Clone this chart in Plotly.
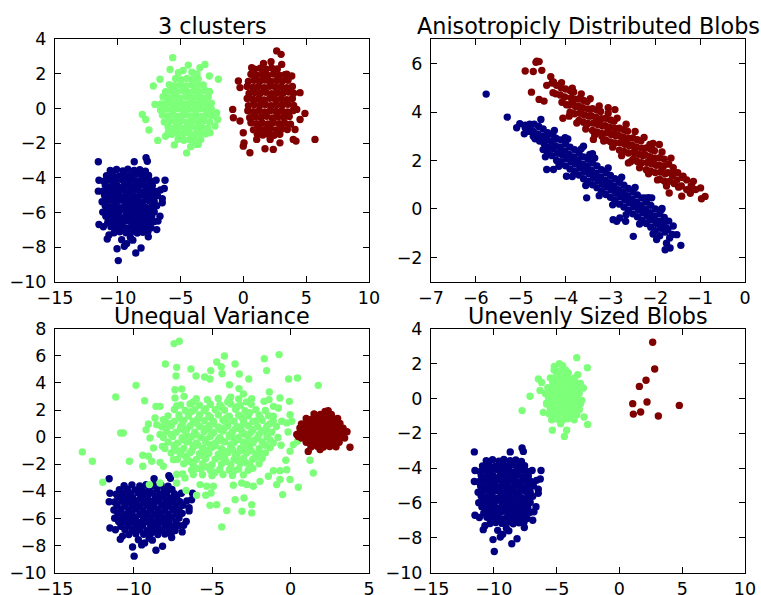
import plotly.graph_objects as go

NAVY = "#000080"
GREEN = "#7dff7a"
MAROON = "#800000"

TITLES = ["3 clusters", "Anisotropicly Distributed Blobs", "Unequal Variance", "Unevenly Sized Blobs"]

# ---- blob with std 1 at about (-9, -5.5); identical in panels 1, 3, 4 ----
blue_blob = [
    (-10.6,-3.58),(-10.1,-3.52),(-9.6,-3.6),(-9.2,-3.5),(-8.7,-3.57),(-8.25,-3.53),(-7.8,-3.62),
    (-10.9,-3.88),(-10.4,-3.82),(-9.9,-3.9),(-9.45,-3.84),(-9.0,-3.87),(-8.5,-3.8),(-8.05,-3.9),(-7.55,-3.86),
    (-11.1,-4.2),(-10.65,-4.12),(-10.2,-4.18),(-9.7,-4.1),(-9.25,-4.17),(-8.8,-4.13),(-8.35,-4.2),(-7.9,-4.12),(-7.4,-4.18),(-6.95,-4.14),
    (-11.0,-4.42),(-10.5,-4.48),(-10.05,-4.44),(-9.55,-4.5),(-9.1,-4.43),(-8.6,-4.47),(-8.15,-4.41),(-7.7,-4.49),(-7.25,-4.45),
    (-11.2,-4.78),(-10.75,-4.72),(-10.3,-4.77),(-9.8,-4.7),(-9.35,-4.79),(-8.9,-4.74),(-8.4,-4.72),(-7.95,-4.8),(-7.5,-4.73),(-7.05,-4.77),
    (-11.05,-5.02),(-10.55,-5.08),(-10.1,-5.04),(-9.6,-5.1),(-9.15,-5.03),(-8.7,-5.07),(-8.2,-5.01),(-7.75,-5.09),(-7.3,-5.05),(-6.85,-5.02),
    (-11.25,-5.38),(-10.8,-5.32),(-10.3,-5.37),(-9.85,-5.3),(-9.4,-5.39),(-8.9,-5.34),(-8.45,-5.32),(-8.0,-5.4),(-7.5,-5.33),(-7.1,-5.37),
    (-11.0,-5.62),(-10.55,-5.68),(-10.1,-5.64),(-9.6,-5.7),(-9.15,-5.63),(-8.7,-5.67),(-8.25,-5.61),(-7.8,-5.69),(-7.3,-5.65),(-6.9,-5.62),
    (-11.2,-5.98),(-10.75,-5.92),(-10.3,-5.97),(-9.85,-5.9),(-9.35,-5.99),(-8.9,-5.94),(-8.45,-5.92),(-8.0,-6.0),(-7.55,-5.93),(-7.1,-5.97),
    (-10.95,-6.22),(-10.5,-6.28),(-10.05,-6.24),(-9.6,-6.3),(-9.1,-6.23),(-8.65,-6.27),(-8.2,-6.21),(-7.75,-6.29),(-7.3,-6.25),
    (-10.8,-6.58),(-10.3,-6.52),(-9.85,-6.57),(-9.4,-6.5),(-8.9,-6.59),(-8.45,-6.54),(-8.0,-6.52),(-7.5,-6.6),(-7.1,-6.53),
    (-10.55,-6.82),(-10.1,-6.88),(-9.6,-6.84),(-9.15,-6.9),(-8.7,-6.83),(-8.2,-6.87),(-7.75,-6.81),(-7.35,-6.89),
    (-10.3,-7.18),(-9.85,-7.12),(-9.35,-7.17),(-8.9,-7.1),(-8.45,-7.19),(-8.0,-7.14),(-7.6,-7.12),
    (-10.35,-4.0),(-9.45,-4.3),(-8.55,-4.6),(-9.95,-4.9),(-8.95,-5.2),(-10.25,-5.5),(-9.35,-5.8),(-8.35,-5.8),
    (-10.0,-6.1),(-8.9,-6.4),(-9.75,-6.7),(-8.5,-7.0),(-7.9,-4.95),(-7.7,-5.85),(-10.7,-4.6),(-10.6,-6.0),
    (-11.55,-3.07),(-7.75,-2.84),(-7.65,-3.04),(-8.69,-3.07),(-6.24,-4.14),(-6.3,-4.62),(-6.46,-5.21),(-6.46,-5.44),
    (-11.55,-4.77),(-11.5,-4.14),(-11.5,-6.7),(-11.15,-6.83),(-10.84,-7.53),(-10.06,-8.1),(-9.96,-8.78),(-9.48,-7.95),
    (-9.29,-7.8),(-9.69,-7.57),(-8.57,-8.34),(-8.15,-8.05),(-7.57,-7.41),(-6.9,-6.99),(-6.64,-6.22),(-6.8,-6.5),
    (-6.6,-4.7),(-10.7,-7.3),(-8.8,-7.6),(-9.0,-7.45),
]

# ---- panel 1 ----
p1_green = [
    (-5.4,1.72),(-4.95,1.66),(-4.5,1.74),(-4.05,1.68),(-3.6,1.71),
    (-5.9,1.38),(-5.45,1.32),(-5.0,1.37),(-4.55,1.3),(-4.1,1.39),(-3.65,1.33),(-3.2,1.36),
    (-6.2,0.97),(-5.75,1.03),(-5.3,0.98),(-4.85,1.04),(-4.4,0.96),(-3.95,1.02),(-3.5,0.97),(-3.05,1.04),(-2.7,0.99),
    (-6.4,0.68),(-5.95,0.62),(-5.5,0.67),(-5.05,0.6),(-4.6,0.69),(-4.15,0.63),(-3.7,0.66),(-3.25,0.61),(-2.8,0.68),
    (-6.55,0.27),(-6.1,0.33),(-5.65,0.28),(-5.2,0.34),(-4.75,0.26),(-4.3,0.32),(-3.85,0.27),(-3.4,0.33),(-2.95,0.28),(-2.55,0.31),
    (-6.6,-0.08),(-6.15,-0.02),(-5.7,-0.07),(-5.25,0.0),(-4.8,-0.09),(-4.35,-0.03),(-3.9,-0.06),(-3.45,-0.01),(-3.0,-0.08),(-2.55,-0.04),
    (-6.45,-0.37),(-6.0,-0.43),(-5.55,-0.38),(-5.1,-0.44),(-4.65,-0.36),(-4.2,-0.42),(-3.75,-0.39),(-3.3,-0.45),(-2.85,-0.37),(-2.45,-0.41),
    (-6.3,-0.78),(-5.85,-0.72),(-5.4,-0.77),(-4.95,-0.7),(-4.5,-0.79),(-4.05,-0.73),(-3.6,-0.76),(-3.15,-0.71),(-2.7,-0.78),
    (-6.0,-1.07),(-5.55,-1.13),(-5.1,-1.08),(-4.65,-1.14),(-4.2,-1.06),(-3.75,-1.12),(-3.3,-1.09),(-2.85,-1.13),
    (-5.7,-1.48),(-5.25,-1.42),(-4.8,-1.47),(-4.35,-1.4),(-3.9,-1.49),(-3.45,-1.43),(-3.0,-1.46),
    (-5.2,-1.77),(-4.75,-1.83),(-4.3,-1.78),(-3.85,-1.84),(-3.4,-1.79),
    (-5.63,2.94),(-4.39,2.51),(-3.06,2.55),(-3.46,2.36),(-2.71,1.88),(-1.99,1.69),(-6.64,1.69),(-7.17,1.3),
    (-8.05,-0.34),(-7.78,-0.63),(-7.04,0.24),(-7.52,-1.24),(-6.82,-1.84),(-4.52,-2.56),(-2.13,-0.24),(-2.05,-0.63),
    (-2.26,-1.01),(-2.66,-1.4),(-3.85,-2.07),(-3.59,-2.07),(-5.98,-1.4),(-5.84,2.26),(-5.18,2.07),(-4.8,2.2),
    (-4.1,2.1),(-3.7,2.0),(-6.2,-1.6),(-5.5,-2.1),(-4.2,-2.2),
]
p1_red = [
    (0.9,2.28),(1.35,2.33),(1.8,2.27),(2.25,2.34),(2.7,2.29),
    (0.6,1.98),(1.05,1.92),(1.5,1.97),(1.95,1.91),(2.4,1.99),(2.85,1.93),(3.3,1.96),
    (0.4,1.57),(0.85,1.63),(1.3,1.58),(1.75,1.64),(2.2,1.56),(2.65,1.62),(3.1,1.59),(3.55,1.63),
    (0.3,1.28),(0.75,1.22),(1.2,1.27),(1.65,1.2),(2.1,1.29),(2.55,1.23),(3.0,1.26),(3.45,1.21),(3.9,1.28),
    (0.45,0.87),(0.9,0.93),(1.35,0.88),(1.8,0.94),(2.25,0.86),(2.7,0.92),(3.15,0.89),(3.6,0.95),(4.0,0.88),
    (0.3,0.58),(0.75,0.52),(1.2,0.57),(1.65,0.5),(2.1,0.59),(2.55,0.53),(3.0,0.56),(3.45,0.51),(3.9,0.58),
    (0.4,0.17),(0.85,0.23),(1.3,0.18),(1.75,0.24),(2.2,0.16),(2.65,0.22),(3.1,0.19),(3.55,0.25),(4.0,0.18),
    (0.35,-0.12),(0.8,-0.18),(1.25,-0.13),(1.7,-0.19),(2.15,-0.11),(2.6,-0.17),(3.05,-0.14),(3.5,-0.2),(3.95,-0.12),
    (0.5,-0.53),(0.95,-0.47),(1.4,-0.52),(1.85,-0.45),(2.3,-0.54),(2.75,-0.48),(3.2,-0.51),(3.65,-0.46),
    (0.6,-0.82),(1.05,-0.88),(1.5,-0.83),(1.95,-0.89),(2.4,-0.81),(2.85,-0.87),(3.3,-0.84),(3.75,-0.9),
    (0.8,-1.23),(1.25,-1.17),(1.7,-1.22),(2.15,-1.15),(2.6,-1.24),(3.05,-1.18),(3.5,-1.21),
    (1.1,-1.47),(1.55,-1.53),(2.0,-1.48),(2.45,-1.54),(2.9,-1.49),
    (2.65,3.33),(3.0,3.13),(3.05,2.55),(0.66,2.36),(-0.27,1.21),(4.51,0.92),(-0.85,-0.05),(-0.8,-0.53),
    (-0.27,-0.72),(4.9,-0.28),(4.51,-0.63),(5.7,-1.78),(3.97,-1.78),(4.19,-1.88),(2.91,-1.98),(2.38,-2.36),
    (1.72,-2.32),(0.52,-2.55),(-0.01,-2.17),(0.05,-1.98),(1.06,-1.78),(2.13,-1.78),(4.11,-1.21),(-0.01,-1.4),
    (4.25,-0.05),(-0.4,1.59),(3.45,1.98),(3.85,1.88),(2.2,2.7),(1.6,2.6),
]

# ---- panel 2 ----
p2_red = [
    (-3.9,4.89),(-3.88,4.59),(-3.92,4.29),(-3.9,3.99),
    (-3.82,4.83),(-3.8,4.53),(-3.78,4.23),(-3.8,3.93),
    (-3.7,4.55),(-3.72,4.25),(-3.68,3.95),(-3.7,3.65),
    (-3.6,4.48),(-3.62,4.18),(-3.58,3.88),(-3.6,3.58),
    (-3.52,4.43),(-3.5,4.13),(-3.48,3.83),(-3.5,3.53),
    (-3.4,4.14),(-3.42,3.84),(-3.38,3.54),(-3.4,3.24),
    (-3.3,4.08),(-3.32,3.78),(-3.28,3.48),(-3.3,3.18),
    (-3.22,4.02),(-3.2,3.72),(-3.18,3.42),(-3.2,3.12),
    (-3.1,3.74),(-3.12,3.44),(-3.08,3.14),(-3.1,2.84),
    (-3.0,3.67),(-3.02,3.37),(-2.98,3.07),(-3.0,2.77),
    (-2.92,3.62),(-2.9,3.32),(-2.88,3.02),(-2.9,2.72),
    (-2.8,3.33),(-2.82,3.03),(-2.78,2.73),(-2.8,2.43),
    (-2.7,3.27),(-2.72,2.97),(-2.68,2.67),(-2.7,2.37),
    (-2.62,3.21),(-2.6,2.91),(-2.58,2.61),(-2.6,2.31),
    (-2.5,2.93),(-2.52,2.63),(-2.48,2.33),(-2.5,2.03),
    (-2.4,2.86),(-2.42,2.56),(-2.38,2.26),(-2.4,1.96),
    (-2.32,2.81),(-2.3,2.51),(-2.28,2.21),(-2.3,1.91),
    (-2.2,2.52),(-2.22,2.22),(-2.18,1.92),(-2.2,1.62),
    (-2.1,2.46),(-2.12,2.16),(-2.08,1.86),(-2.1,1.56),
    (-2.02,2.4),(-2.0,2.1),(-1.98,1.8),(-2.0,1.5),
    (-1.9,2.12),(-1.92,1.82),(-1.88,1.52),(-1.9,1.22),
    (-1.8,2.05),(-1.82,1.75),(-1.78,1.45),(-1.8,1.15),
    (-3.85,4.98),(-3.75,3.55),(-3.65,4.75),(-3.55,3.3),(-3.45,4.55),(-3.35,3.05),(-3.25,4.25),(-3.15,2.8),
    (-3.05,3.95),(-2.95,2.55),(-2.85,3.75),(-2.75,2.2),(-2.65,3.5),(-2.55,1.95),(-2.45,3.2),(-2.35,1.7),
    (-2.25,2.95),(-2.15,1.45),(-2.05,2.7),(-1.95,1.2),(-1.85,2.35),(-1.75,0.95),(-1.65,2.1),
    (-3.85,4.4),(-3.65,4.1),(-3.45,3.85),(-3.25,3.6),(-3.05,3.3),(-2.85,3.05),(-2.65,2.8),(-2.45,2.5),
    (-2.25,2.25),(-2.05,1.95),(-1.85,1.7),
    (-4.3,5.2),(-4.28,4.8),(-4.2,5.1),(-4.22,4.75),(-4.1,5.0),(-4.12,4.7),(-4.08,4.4),
    (-4.0,4.95),(-4.02,4.62),(-3.98,4.3),(-1.7,1.85),(-1.72,1.5),(-1.68,1.15),
    (-1.6,1.7),(-1.62,1.38),(-1.58,1.05),(-1.5,1.5),(-1.52,1.2),(-1.48,0.9),
    (-1.4,1.3),(-1.42,0.95),(-1.3,1.2),(-1.3,0.8),(-1.2,0.95),(-1.22,0.65),(-1.1,0.8),
    (-4.64,6.1),(-4.59,6.08),(-4.66,6.05),(-4.9,5.69),(-4.72,5.67),(-4.53,5.72),(-4.76,4.82),
    (-4.48,4.45),(-4.59,4.52),(-4.33,5.46),(-4.42,5.1),(-4.27,5.24),(-4.09,5.21),(-4.06,3.74),
    (-3.92,3.83),(-3.38,2.87),(-3.19,3.0),(-3.05,4.18),(-2.9,4.1),(-2.12,2.66),(-1.91,2.66),
    (-1.69,0.66),(-1.41,0.53),(-1.15,1.14),(-1.19,0.94),(-0.99,0.87),(-0.89,0.52),(-0.97,0.42),
    (-1.38,1.35),(-1.6,1.49),(-2.6,1.9),(-2.49,2.04),
]
p2_blue = [
    (-4.7,3.5),(-4.72,3.2),(-4.68,2.9),
    (-4.6,3.4),(-4.62,3.1),(-4.58,2.8),
    (-4.5,3.3),(-4.52,3.0),(-4.48,2.7),(-4.5,2.45),
    (-4.4,3.15),(-4.42,2.85),(-4.38,2.55),(-4.4,2.3),
    (-4.3,3.1),(-4.32,2.8),(-4.28,2.5),(-4.3,2.2),
    (-4.2,2.9),(-4.22,2.6),(-4.18,2.3),(-4.2,2.0),
    (-4.1,2.85),(-4.12,2.55),(-4.08,2.25),(-4.1,1.95),
    (-4.0,2.68),(-4.02,2.38),(-3.98,2.08),(-4.0,1.78),
    (-3.9,2.55),(-3.92,2.25),(-3.88,1.95),(-3.9,1.65),
    (-3.8,2.45),(-3.82,2.15),(-3.78,1.85),(-3.8,1.55),
    (-3.7,2.3),(-3.72,2.0),(-3.68,1.7),(-3.7,1.4),
    (-3.6,2.15),(-3.62,1.85),(-3.58,1.55),(-3.6,1.25),
    (-3.5,2.05),(-3.52,1.75),(-3.48,1.45),(-3.5,1.15),
    (-3.4,1.9),(-3.42,1.6),(-3.38,1.3),(-3.4,1.0),
    (-3.3,1.78),(-3.32,1.48),(-3.28,1.18),(-3.3,0.88),
    (-3.2,1.62),(-3.22,1.32),(-3.18,1.02),(-3.2,0.72),
    (-3.1,1.5),(-3.12,1.2),(-3.08,0.9),(-3.1,0.6),
    (-3.0,1.38),(-3.02,1.08),(-2.98,0.78),(-3.0,0.48),
    (-2.9,1.25),(-2.92,0.95),(-2.88,0.65),(-2.9,0.35),
    (-2.8,1.1),(-2.82,0.8),(-2.78,0.5),(-2.8,0.2),
    (-2.7,0.98),(-2.72,0.68),(-2.68,0.38),(-2.7,0.08),
    (-2.6,0.85),(-2.62,0.55),(-2.58,0.25),(-2.6,-0.05),
    (-2.5,0.7),(-2.52,0.4),(-2.48,0.1),(-2.5,-0.2),
    (-2.4,0.58),(-2.42,0.28),(-2.38,-0.02),(-2.4,-0.32),
    (-2.3,0.45),(-2.32,0.15),(-2.28,-0.15),(-2.3,-0.45),
    (-2.2,0.3),(-2.22,0.0),(-2.18,-0.3),(-2.2,-0.6),
    (-2.1,0.15),(-2.12,-0.15),(-2.08,-0.45),(-2.1,-0.75),
    (-2.0,0.0),(-2.02,-0.3),(-1.98,-0.6),(-2.0,-0.9),
    (-1.9,-0.2),(-1.92,-0.5),(-1.88,-0.8),(-1.9,-1.1),
    (-1.8,-0.35),(-1.82,-0.65),(-1.78,-0.95),
    (-1.7,-0.5),(-1.72,-0.85),(-1.68,-1.2),
    (-1.6,-0.7),(-1.62,-1.05),(-4.8,3.5),(-4.82,3.2),(-4.9,3.35),(-4.92,3.1),
    (-4.55,3.69),(-4.45,2.15),(-4.25,3.24),(-4.15,1.76),(-3.95,2.89),(-3.85,1.34),(-3.65,2.48),(-3.55,0.97),
    (-3.35,2.1),(-3.25,0.55),(-3.05,1.69),(-2.95,0.17),(-2.75,1.31),(-2.65,-0.24),(-2.45,0.89),(-2.35,-0.62),
    (-2.15,0.47),(-2.05,-1.03),(-1.85,0.02),(-1.75,-1.41),
    (-4.45,2.88),(-4.25,2.6),(-4.05,2.33),(-3.85,2.05),(-3.65,1.8),(-3.45,1.53),(-3.25,1.27),(-3.05,1.0),
    (-2.85,0.75),(-2.65,0.48),(-2.45,0.22),(-2.25,-0.05),(-2.05,-0.31),(-1.85,-0.58),
    (-5.77,4.74),(-5.3,3.79),(-5.09,3.35),(-5.02,3.52),(-4.9,3.46),(-4.79,3.35),(-4.72,3.0),(-4.57,2.94),
    (-4.39,3.07),(-4.24,2.94),(-4.01,2.94),(-3.6,2.59),(-3.4,2.28),(-4.27,1.63),(-3.98,1.35),(-3.53,0.46),
    (-2.86,-0.51),(-2.66,-0.51),(-2.49,-1.13),(-2.23,0.46),(-2.08,0.46),(-1.86,-0.02),(-1.78,-0.51),
    (-1.75,-0.78),(-1.97,-1.26),(-1.78,-1.68),(-1.67,-1.61),(-1.52,-1.06),(-1.43,-1.5),(-3.46,2.25),
    (-4.42,1.63),(-2.94,-0.44),(-2.79,-0.37),
]

# ---- panel 3 ----
p3_green = [
    (-7.42,6.9),(-7.08,7.07),(-4.21,5.99),(-4.7,5.54),(-4.41,5.2),(-3.53,5.4),(-1.67,5.79),(-0.73,6.09),
    (-7.97,5.4),(-7.25,5.15),(-7.29,4.51),(-6.34,5.03),(-6.02,4.51),(-5.47,4.44),(-5.08,4.91),(-5.13,4.29),
    (-4.36,4.68),(-3.26,4.66),(-2.66,4.29),(-1.52,4.91),(-1.35,3.33),(-0.12,4.29),(0.44,4.36),(-9.84,3.82),
    (-11.13,2.96),(-9.29,2.69),(-8.57,2.27),(-8.31,2.27),(-7.36,3.5),(-6.93,3.55),(-6.78,3.01),(-7.36,2.89),
    (-7.25,2.3),(-3.89,3.87),(-3.81,2.94),(-3.28,3.58),(-3.0,3.18),(-2.47,2.84),(-1.69,2.64),(-1.37,2.77),
    (-0.67,2.89),(-0.07,2.64),(-1.09,2.27),(-0.77,2.15),(-0.03,1.66),(-10.82,0.31),(-10.65,0.31),(-9.2,0.55),
    (-9.05,0.97),(-8.63,1.41),(-8.52,0.92),(-8.1,1.29),(-7.99,0.73),(-13.26,-1.09),(-12.62,-1.78),(-11.96,-3.33),
    (-10.26,-1.78),(-9.41,-1.34),(-9.05,-1.41),(-9.41,-2.15),(-8.73,-0.8),(-8.16,-0.68),(-8.95,-0.06),(-8.31,0.19),
    (-8.84,-1.78),(-8.31,-1.86),(-8.1,-2.15),(-7.46,-1.66),(-7.25,-2.76),(-6.87,-2.72),(-6.72,-3.01),(-6.19,-2.76),
    (-5.76,-3.5),(-5.34,-3.62),(-4.91,-3.62),(-5.4,-4.29),(-5.06,-4.12),(-5.13,-5.03),(-4.7,-4.98),(-4.06,-5.42),
    (-3.53,-4.61),(-2.96,-4.49),(-3.09,-5.47),(-2.47,-4.98),(-2.47,-5.59),(-4.38,-6.62),(-3.64,-3.55),(-3.11,-3.38),
    (-2.79,-3.5),(-2.37,-3.62),(-1.94,-3.26),(-1.41,-2.89),(-0.88,-3.5),(-0.67,-3.13),(-0.03,-3.13),(-0.5,-4.24),
    (-1.09,-2.47),(-0.67,-2.47),(-0.24,-2.4),(0.18,-0.55),(0.44,-0.31),(-0.16,0.38),(-0.03,-1.04),(-0.24,1.05),
    (0.08,1.17),(-1.09,1.54),(-0.56,1.17),(1.77,3.82),(1.45,-2.64),(1.24,-1.71),(0.5,-3.7),(-0.3,-1.7),
    (-0.6,-0.6),(-8.99,-3.5),(-8.31,-3.38),(-7.25,-3.38),(-6.65,-3.94),(-5.98,-4.29),
    (-6.0,2.83),(-5.3,2.76),(-4.6,2.85),(-3.9,2.78),(-3.3,2.82),
    (-7.0,2.37),(-6.4,2.44),(-5.8,2.36),(-5.1,2.43),(-4.5,2.38),(-3.8,2.45),(-3.2,2.35),(-2.5,2.42),
    (-7.4,2.04),(-6.7,1.97),(-6.1,2.05),(-5.5,1.96),(-4.8,2.03),(-4.2,1.98),(-3.5,2.06),(-2.9,1.95),(-2.2,2.02),(-1.6,1.97),
    (-7.8,1.57),(-7.1,1.64),(-6.5,1.56),(-5.8,1.63),(-5.2,1.58),(-4.6,1.65),(-3.9,1.55),(-3.3,1.62),(-2.7,1.57),(-2.0,1.64),(-1.4,1.58),
    (-8.0,1.23),(-7.4,1.16),(-6.8,1.24),(-6.2,1.17),(-5.5,1.22),(-4.9,1.15),(-4.3,1.25),(-3.6,1.18),(-3.0,1.23),(-2.4,1.16),(-1.8,1.24),(-1.1,1.19),
    (-8.2,0.77),(-7.6,0.84),(-7.0,0.76),(-6.4,0.83),(-5.8,0.78),(-5.2,0.85),(-4.6,0.75),(-4.0,0.82),(-3.4,0.77),(-2.7,0.84),(-2.1,0.76),(-1.5,0.83),(-0.9,0.78),
    (-7.9,0.43),(-7.3,0.36),(-6.7,0.44),(-6.1,0.37),(-5.5,0.42),(-4.9,0.35),(-4.3,0.45),(-3.7,0.38),(-3.1,0.43),(-2.5,0.36),(-1.8,0.44),(-1.2,0.37),
    (-8.1,-0.03),(-7.5,0.04),(-6.9,-0.04),(-6.3,0.03),(-5.7,-0.02),(-5.1,0.05),(-4.5,-0.05),(-3.9,0.02),(-3.3,-0.03),(-2.7,0.04),(-2.1,-0.04),(-1.5,0.03),(-0.8,-0.02),
    (-7.8,-0.37),(-7.2,-0.44),(-6.6,-0.36),(-6.0,-0.43),(-5.4,-0.38),(-4.8,-0.45),(-4.2,-0.35),(-3.6,-0.42),(-3.0,-0.37),(-2.4,-0.44),(-1.8,-0.36),(-1.1,-0.43),
    (-8.0,-0.83),(-7.4,-0.76),(-6.8,-0.84),(-6.2,-0.77),(-5.6,-0.82),(-5.0,-0.75),(-4.4,-0.85),(-3.8,-0.78),(-3.2,-0.83),(-2.6,-0.76),(-2.0,-0.84),(-1.3,-0.77),
    (-7.6,-1.17),(-7.0,-1.24),(-6.4,-1.16),(-5.8,-1.23),(-5.2,-1.18),(-4.6,-1.25),(-4.0,-1.15),(-3.4,-1.22),(-2.8,-1.17),(-2.2,-1.24),(-1.6,-1.16),
    (-7.2,-1.63),(-6.6,-1.56),(-6.0,-1.64),(-5.4,-1.57),(-4.8,-1.62),(-4.2,-1.55),(-3.6,-1.65),(-3.0,-1.58),(-2.4,-1.63),(-1.8,-1.56),
    (-6.8,-1.97),(-6.2,-2.04),(-5.6,-1.96),(-5.0,-2.03),(-4.4,-1.98),(-3.8,-2.05),(-3.2,-1.95),(-2.6,-2.02),(-2.0,-1.97),
    (-6.3,-2.43),(-5.7,-2.36),(-5.1,-2.44),(-4.5,-2.37),(-3.9,-2.42),(-3.3,-2.35),(-2.7,-2.45),
    (-5.6,-2.77),(-5.0,-2.84),(-4.3,-2.76),(-3.7,-2.83),(-3.0,-2.78),
    (-6.0,1.02),(-5.0,0.96),(-4.0,1.04),(-3.0,0.98),(-6.6,0.58),(-5.5,0.64),(-4.5,0.56),(-3.5,0.62),(-2.4,0.57),
    (-6.0,0.18),(-5.0,0.24),(-3.9,0.16),(-2.9,0.22),(-6.5,-0.22),(-5.4,-0.16),(-4.4,-0.24),(-3.3,-0.18),(-2.3,-0.23),
    (-5.9,-0.58),(-4.8,-0.64),(-3.8,-0.56),(-2.8,-0.62),(-6.3,-1.02),(-5.3,-0.96),(-4.2,-1.04),(-3.1,-0.98),
    (-5.6,-1.38),(-4.5,-1.44),(-3.5,-1.36),
    (-7.1,1.4),(-6.3,1.9),(-5.4,2.1),(-4.4,2.2),(-3.4,2.25),(-2.6,1.8),(-1.9,1.4),(-1.3,1.0),
    (-7.7,1.0),(-6.9,0.95),(-5.9,1.35),(-5.1,1.45),(-4.1,1.4),(-3.1,1.45),(-2.2,1.2),(-1.6,0.55),
    (-7.6,0.2),(-7.0,0.6),(-6.6,0.1),(-5.2,0.6),(-4.2,0.7),(-3.2,0.65),(-2.0,0.2),(-1.3,-0.2),
    (-7.4,-0.6),(-6.9,-0.2),(-6.2,-0.6),(-5.1,-0.55),(-4.6,-0.2),(-3.6,-0.1),(-2.6,-0.4),(-1.6,-0.6),
    (-7.2,-1.0),(-6.7,-1.4),(-5.5,-1.0),(-4.4,-1.3),(-3.7,-0.95),(-2.5,-1.0),(-1.9,-1.2),(-6.4,-1.8),
    (-5.3,-2.2),(-4.1,-1.8),(-3.4,-1.7),(-2.8,-1.9),(-2.2,-1.5),(-6.0,-2.3),(-4.8,-2.6),(-3.6,-2.5),
    (-2.4,-2.3),(-6.2,2.6),(-4.0,2.6),(-2.8,2.6),
]
p3_red = [
    (1.5,1.72),(1.9,1.68),(2.3,1.73),(2.6,1.67),
    (1.0,1.37),(1.35,1.33),(1.7,1.38),(2.05,1.32),(2.4,1.36),(2.75,1.34),(3.0,1.37),
    (0.7,0.98),(1.05,1.03),(1.4,0.97),(1.75,1.02),(2.1,0.99),(2.45,1.04),(2.8,0.98),(3.15,1.01),
    (0.6,0.67),(0.95,0.63),(1.3,0.68),(1.65,0.62),(2.0,0.66),(2.35,0.64),(2.7,0.67),(3.05,0.62),(3.35,0.66),
    (0.55,0.28),(0.9,0.33),(1.25,0.29),(1.6,0.32),(1.95,0.27),(2.3,0.31),(2.65,0.28),(3.0,0.33),(3.35,0.29),
    (0.7,-0.07),(1.05,-0.03),(1.4,-0.06),(1.75,-0.02),(2.1,-0.08),(2.45,-0.04),(2.8,-0.06),(3.15,-0.03),(3.45,-0.07),
    (1.0,-0.38),(1.35,-0.42),(1.7,-0.37),(2.05,-0.41),(2.4,-0.39),(2.75,-0.43),(3.1,-0.38),
    (1.3,-0.72),(1.7,-0.68),(2.1,-0.73),(2.5,-0.69),(2.9,-0.71),
    (3.79,-0.75),(1.13,-1.05),(1.88,-0.92),(0.4,0.2),(0.5,0.05),(3.6,0.4),(2.4,1.95),(2.2,1.9),
]

# ---- panel 4 ----
p4_green = [
    (-7.75,-0.7),(-7.12,0.12),(-6.45,1.11),(-6.19,0.92),(-6.32,0.46),(-5.18,1.84),(-4.78,1.99),(-4.52,1.88),
    (-3.4,2.34),(-2.55,1.76),(-4.28,1.46),(-4.07,1.46),(-4.99,1.3),(-3.32,1.36),(-5.79,-0.26),(-6.06,-0.8),
    (-5.39,-1.22),(-5.34,-1.83),(-4.38,-2.18),(-4.2,-1.83),(-4.68,-1.45),(-2.82,-1.07),(-2.53,-1.49),(-3.0,-0.11),
    (-3.19,-0.65),(-3.14,0.69),(-2.87,0.6),(-3.8,0.73),(-3.61,0.5),(-5.26,0.5),(-5.66,0.12),
    (-5.2,1.62),(-4.7,1.57),(-4.3,1.63),
    (-5.5,1.18),(-5.0,1.23),(-4.6,1.17),(-4.1,1.22),(-3.6,1.16),
    (-5.3,0.92),(-4.9,0.87),(-4.4,0.93),(-4.0,0.88),(-3.5,0.91),(-3.1,0.86),
    (-5.7,0.62),(-5.2,0.57),(-4.8,0.63),(-4.3,0.58),(-3.9,0.61),(-3.4,0.56),
    (-5.9,0.28),(-5.5,0.33),(-5.0,0.27),(-4.6,0.32),(-4.1,0.26),(-3.7,0.31),(-3.2,0.29),
    (-5.6,-0.02),(-5.2,0.03),(-4.7,-0.03),(-4.3,0.02),(-3.8,-0.04),(-3.4,0.01),
    (-5.8,-0.32),(-5.4,-0.27),(-4.9,-0.33),(-4.5,-0.28),(-4.0,-0.31),(-3.6,-0.26),(-3.1,-0.3),
    (-5.5,-0.58),(-5.1,-0.63),(-4.6,-0.57),(-4.2,-0.62),(-3.7,-0.59),(-3.3,-0.64),
    (-5.6,-0.88),(-5.2,-0.93),(-4.8,-0.87),(-4.3,-0.92),(-3.9,-0.89),(-3.4,-0.94),
    (-5.0,-1.18),(-4.5,-1.23),(-4.1,-1.17),(-3.6,-1.22),
]
p4_red = [
    (2.65,3.22),(2.81,1.69),(2.12,1.04),(1.59,0.69),(1.06,-0.3),
    (2.2,-0.21),(1.69,-0.78),(1.11,-0.9),(3.1,-1.01),(4.77,-0.4),
]

X_RANGES = [(-15, 10), (-7, 0), (-15, 5), (-15, 10)]
X_DTICK = [5, 1, 5, 5]
Y_RANGES = [(-10, 4), (-3, 7), (-10, 8), (-10, 4)]
Y_DTICK = [2, 2, 2, 2]

W, H = 761, 595
left_dom = [55 / W, 369 / W]
right_dom = [431 / W, 745 / W]
top_dom = [1 - 281.7 / H, 1 - 39.3 / H]
bot_dom = [1 - 572.7 / H, 1 - 328.7 / H]
DOMS = [(left_dom, top_dom), (right_dom, top_dom), (left_dom, bot_dom), (right_dom, bot_dom)]

FONT = "DejaVu Sans"

panels = [
    [(p1_green, GREEN), (blue_blob, NAVY), (p1_red, MAROON)],
    [(p2_blue, NAVY), (p2_red, MAROON)],
    [(blue_blob, NAVY), (p3_green, GREEN), (p3_red, MAROON)],
    [(blue_blob, NAVY), (p4_green, GREEN), (p4_red, MAROON)],
]

fig = go.Figure()
for k, series in enumerate(panels, start=1):
    suf = "" if k == 1 else str(k)
    for pts, col in series:
        fig.add_trace(go.Scatter(
            x=[p[0] for p in pts], y=[p[1] for p in pts], mode="markers",
            marker=dict(color=col, size=7.4, line=dict(width=0)),
            xaxis="x" + suf, yaxis="y" + suf, showlegend=False, hoverinfo="skip"))

layout = dict(width=W, height=H, margin=dict(l=0, r=0, t=0, b=0, autoexpand=False),
              paper_bgcolor="white", plot_bgcolor="white",
              font=dict(family=FONT, color="black"), annotations=[])
for i in range(4):
    k = i + 1
    suf = "" if k == 1 else str(k)
    xd, yd = DOMS[i]
    common = dict(showline=True, linecolor="black", linewidth=1, mirror="ticks",
                  ticks="inside", ticklen=6, tickwidth=1, tickcolor="black",
                  showgrid=False, zeroline=False, automargin=False,
                  tickfont=dict(family=FONT, size=17.5, color="black"))
    layout["xaxis" + suf] = dict(common, domain=xd, range=list(X_RANGES[i]), tick0=0,
                                 dtick=X_DTICK[i], anchor="y" + suf, ticklabelstandoff=0)
    layout["yaxis" + suf] = dict(common, domain=yd, range=list(Y_RANGES[i]), tick0=0,
                                 dtick=Y_DTICK[i], anchor="x" + suf, ticklabelstandoff=4)
    layout["annotations"].append(dict(
        text=TITLES[i], xref="paper", yref="paper", x=(xd[0] + xd[1]) / 2, y=yd[1],
        xanchor="center", yanchor="bottom", yshift=-2, showarrow=False,
        font=dict(family=FONT, size=22.3, color="black")))

fig.update_layout(**layout)
fig.write_html("out.html")
